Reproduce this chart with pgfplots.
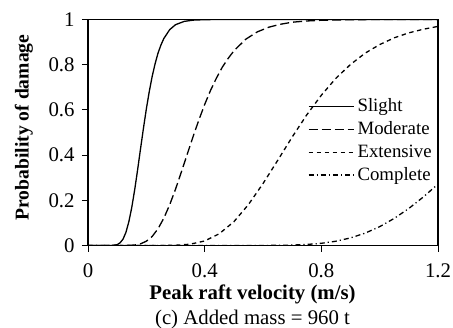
\documentclass[border=0pt]{standalone}
\usepackage{pgfplots}
\pgfplotsset{compat=1.18}
\usepackage{fontspec}
\setmainfont{Liberation Serif}
\begin{document}
\rmfamily\fontsize{10.5}{12.5}\selectfont
\begin{tikzpicture}
\path[use as bounding box] (-44pt,-40.75pt) rectangle (182.5pt,122.75pt);
\begin{axis}[
  at={(0,0)}, anchor=south west,
  scale only axis, width=175pt, height=113pt,
  xmin=0, xmax=1.2, ymin=0, ymax=1,
  xtick={0,0.4,0.8,1.2}, xticklabels={0,0.4,0.8,1.2},
  ytick={0,0.2,0.4,0.6,0.8,1}, yticklabels={0,0.2,0.4,0.6,0.8,1},
  /pgf/number format/assume math mode=true,
  tick align=outside, xtick pos=bottom, ytick pos=left,
  major tick length=3pt,
  tick style={black, line width=0.5pt},
  axis line style={black, line width=0.7pt},
  tick label style={font=\rmfamily\fontsize{10.4}{12.5}\selectfont},
  xticklabel style={yshift=-2.5pt},
  xlabel={\textbf{Peak raft velocity (m/s)}\\(c) Added mass = 960 t},
  xlabel style={at={(axis description cs:0.47,-0.27)}, anchor=center, align=center, font=\rmfamily\fontsize{10.4}{12.5}\selectfont},
  ylabel={\textbf{Probability of damage}},
  ylabel style={at={(axis description cs:-0.183,0.522)}, anchor=center, font=\rmfamily\fontsize{9.8}{12}\selectfont},
  legend style={at={(0.627,0.463)}, anchor=west, draw=none, fill=none, inner sep=0pt,
    row sep=0pt, font=\rmfamily\fontsize{9.4}{11}\selectfont,
    nodes={inner sep=0.5pt, text height=7.8pt, text depth=2.6pt},
    /tikz/every odd column/.append style={column sep=1.2pt}},
  legend cell align=left,
  legend image code/.code={\draw[#1] (0pt,0pt) -- (22.5pt,0pt);},
  every axis plot/.append style={black, line width=0.65pt},
]
% Slight
\addplot[solid] coordinates {(0,0) (0.08,0.0001) (0.10,0.0036) (0.11,0.012) (0.12,0.028) (0.13,0.058) (0.14,0.105) (0.15,0.168) (0.16,0.246) (0.17,0.334) (0.18,0.427) (0.19,0.518) (0.20,0.604) (0.21,0.681) (0.22,0.748) (0.23,0.804) (0.24,0.851) (0.25,0.887) (0.26,0.916) (0.28,0.955) (0.30,0.977) (0.33,0.9917) (0.36,0.9972) (0.40,0.9993) (0.45,1) (1.2,1)};
\addlegendentry{Slight}
% Moderate
\addplot[dash pattern=on 4.5pt off 2pt] coordinates {(0,0) (0.14,0.0005) (0.16,0.0023) (0.18,0.0074) (0.20,0.019) (0.22,0.040) (0.24,0.074) (0.26,0.121) (0.28,0.180) (0.30,0.249) (0.32,0.325) (0.34,0.403) (0.36,0.481) (0.38,0.555) (0.40,0.624) (0.42,0.686) (0.44,0.740) (0.46,0.788) (0.48,0.827) (0.50,0.861) (0.54,0.912) (0.58,0.945) (0.62,0.966) (0.66,0.979) (0.70,0.988) (0.75,0.9935) (0.80,0.9966) (0.90,0.9991) (1.0,1) (1.2,1)};
\addlegendentry{Moderate}
% Extensive
\addplot[dash pattern=on 2.2pt off 1.8pt] coordinates {(0,0) (0.25,0.0001) (0.30,0.001) (0.35,0.0058) (0.40,0.020) (0.45,0.052) (0.50,0.105) (0.55,0.181) (0.60,0.274) (0.65,0.376) (0.70,0.480) (0.75,0.578) (0.80,0.665) (0.85,0.740) (0.90,0.801) (0.95,0.851) (1.00,0.889) (1.05,0.919) (1.10,0.941) (1.15,0.957) (1.20,0.9695)};
\addlegendentry{Extensive}
% Complete
\addplot[dash pattern=on 2.5pt off 1.5pt on 0.6pt off 1.5pt] coordinates {(0,0) (0.60,0.0002) (0.65,0.0007) (0.70,0.0019) (0.75,0.0046) (0.80,0.0098) (0.85,0.019) (0.90,0.0336) (0.95,0.0547) (1.00,0.0833) (1.05,0.120) (1.10,0.164) (1.15,0.215) (1.20,0.272)};
\addlegendentry{Complete}
\end{axis}
\end{tikzpicture}
\end{document}
